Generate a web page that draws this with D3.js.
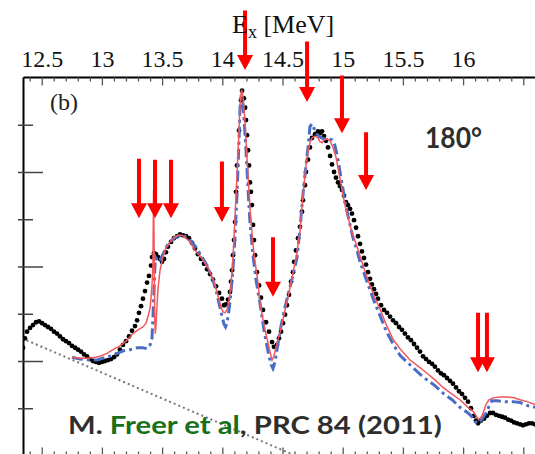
<!DOCTYPE html>
<html>
<head>
<meta charset="utf-8">
<script src="https://cdn.jsdelivr.net/npm/d3@7"></script>
<style>
  html, body { margin: 0; padding: 0; background: #fff; }
  svg { display: block; }
</style>
</head>
<body>
<div id="chart"></div>
<script>
// 180 deg spectrum, [Ex (MeV), yield (arb. units)]
const measured = [
  [12.345,1.14],[12.361,1.24],[12.378,1.31],[12.403,1.35],[12.428,1.38],[12.453,1.41],[12.478,1.42],
  [12.503,1.40],[12.527,1.38],[12.552,1.36],[12.577,1.34],[12.602,1.31],[12.627,1.29],[12.652,1.26],
  [12.677,1.23],[12.702,1.21],[12.727,1.19],[12.752,1.16],[12.777,1.14],[12.802,1.12],[12.826,1.10],
  [12.851,1.07],[12.876,1.05],[12.901,1.02],[12.926,1.00],[12.951,0.99],[12.976,0.98],[13.001,0.99],
  [13.026,1.00],[13.051,1.01],[13.076,1.02],[13.101,1.04],[13.125,1.07],[13.150,1.12],[13.175,1.17],
  [13.200,1.21],[13.225,1.26],[13.250,1.32],[13.275,1.37],[13.292,1.43],[13.308,1.51],[13.325,1.58],
  [13.341,1.66],[13.358,1.74],[13.375,1.83],[13.391,1.90],[13.408,2.01],[13.416,2.10],[13.433,2.14],
  [13.449,2.13],[13.466,2.10],[13.483,2.08],[13.499,2.05],[13.516,2.08],[13.532,2.15],[13.549,2.21],
  [13.574,2.26],[13.599,2.30],[13.624,2.32],[13.649,2.34],[13.674,2.33],[13.699,2.32],[13.723,2.30],
  [13.748,2.25],[13.773,2.19],[13.798,2.13],[13.823,2.08],[13.848,2.03],[13.873,1.97],[13.898,1.92],
  [13.923,1.86],[13.948,1.79],[13.973,1.72],[13.997,1.66],[14.014,1.59],[14.031,1.60],[14.047,1.65],
  [14.064,1.73],[14.072,1.84],[14.081,1.96],[14.089,2.12],[14.097,2.28],[14.106,2.47],[14.114,2.79],
  [14.122,3.07],[14.139,3.44],[14.155,3.76],[14.164,3.86],[14.180,3.78],[14.189,3.68],[14.197,3.55],
  [14.205,3.39],[14.214,3.23],[14.222,3.07],[14.230,2.89],[14.238,2.79],[14.247,2.65],[14.255,2.44],
  [14.263,2.28],[14.272,2.12],[14.288,1.94],[14.305,1.80],[14.321,1.67],[14.338,1.54],[14.363,1.41],
  [14.388,1.31],[14.413,1.20],[14.429,1.15],[14.454,1.17],[14.471,1.24],[14.488,1.31],[14.504,1.40],
  [14.521,1.49],[14.537,1.59],[14.554,1.70],[14.571,1.84],[14.587,1.94],[14.596,2.05],[14.612,2.17],
  [14.629,2.30],[14.645,2.42],[14.662,2.58],[14.670,2.70],[14.687,2.86],[14.695,3.00],[14.712,3.13],
  [14.728,3.26],[14.745,3.36],[14.770,3.40],[14.795,3.43],[14.811,3.41],[14.828,3.43],[14.845,3.38],
  [14.861,3.33],[14.878,3.26],[14.895,3.17],[14.911,3.08],[14.928,3.00],[14.944,2.94],[14.961,2.89],
  [14.978,2.85],[14.994,2.81],[15.011,2.75],[15.027,2.68],[15.044,2.65],[15.061,2.61],[15.077,2.56],
  [15.094,2.49],[15.111,2.41],[15.127,2.32],[15.144,2.24],[15.160,2.16],[15.177,2.09],[15.194,2.02],
  [15.210,1.94],[15.227,1.87],[15.243,1.81],[15.260,1.76],[15.277,1.71],[15.293,1.66],[15.318,1.59],
  [15.343,1.54],[15.368,1.51],[15.393,1.47],[15.418,1.43],[15.443,1.40],[15.468,1.36],[15.492,1.33],
  [15.517,1.29],[15.542,1.25],[15.567,1.22],[15.592,1.18],[15.617,1.14],[15.642,1.10],[15.667,1.05],
  [15.692,1.02],[15.717,0.99],[15.742,0.97],[15.766,0.94],[15.791,0.90],[15.816,0.87],[15.841,0.85],
  [15.866,0.82],[15.891,0.79],[15.916,0.76],[15.941,0.72],[15.966,0.68],[15.991,0.65],[16.016,0.61],
  [16.041,0.57],[16.065,0.50],[16.090,0.42],[16.107,0.37],[16.124,0.34],[16.149,0.37],[16.174,0.39],
  [16.198,0.42],[16.224,0.45],[16.248,0.45],[16.273,0.43],[16.298,0.42],[16.323,0.41],[16.348,0.40],
  [16.373,0.38],[16.398,0.37],[16.423,0.35],[16.448,0.34],[16.473,0.33],[16.497,0.32],[16.522,0.33],
  [16.547,0.34],[16.572,0.34],[16.597,0.33]
];

// R-matrix fit (solid red)
const fitRed = [
  [12.752,1.04],[12.818,1.03],[12.876,1.03],[12.943,1.04],[12.984,1.05],[13.042,1.08],[13.092,1.12],
  [13.150,1.16],[13.209,1.22],[13.258,1.29],[13.300,1.33],[13.341,1.36],[13.366,1.40],[13.383,1.47],
  [13.400,1.56],[13.408,1.67],[13.416,1.80],[13.424,2.02],[13.429,2.81],[13.434,2.17],[13.439,1.43],
  [13.444,1.29],[13.449,1.38],[13.458,1.59],[13.466,1.77],[13.483,1.96],[13.507,2.10],[13.532,2.20],
  [13.566,2.26],[13.599,2.31],[13.632,2.33],[13.665,2.33],[13.699,2.30],[13.732,2.26],[13.773,2.17],
  [13.815,2.11],[13.856,2.04],[13.898,1.94],[13.931,1.84],[13.964,1.69],[13.989,1.57],[14.006,1.52],
  [14.022,1.51],[14.039,1.54],[14.056,1.65],[14.072,1.80],[14.089,2.09],[14.106,2.54],[14.122,2.97],
  [14.139,3.44],[14.147,3.71],[14.160,3.87],[14.172,3.80],[14.189,3.53],[14.205,3.15],[14.230,2.62],
  [14.255,2.23],[14.272,2.05],[14.297,1.83],[14.313,1.62],[14.346,1.38],[14.371,1.24],[14.396,1.10],
  [14.413,1.01],[14.429,1.05],[14.446,1.15],[14.479,1.30],[14.513,1.49],[14.546,1.68],[14.579,1.88],
  [14.612,2.09],[14.645,2.36],[14.670,2.76],[14.695,3.07],[14.712,3.21],[14.728,3.31],[14.745,3.36],
  [14.770,3.38],[14.795,3.36],[14.811,3.32],[14.828,3.31],[14.845,3.34],[14.870,3.35],[14.895,3.33],
  [14.919,3.26],[14.944,3.16],[14.969,2.99],[14.994,2.81],[15.019,2.65],[15.044,2.52],[15.077,2.36],
  [15.111,2.24],[15.144,2.11],[15.185,1.95],[15.227,1.80],[15.268,1.67],[15.310,1.55],[15.360,1.39],
  [15.418,1.23],[15.476,1.13],[15.559,1.01],[15.642,0.93],[15.700,0.87],[15.766,0.80],[15.833,0.72],
  [15.908,0.65],[15.974,0.59],[16.041,0.51],[16.082,0.47],[16.107,0.42],[16.124,0.39],[16.140,0.39],
  [16.157,0.42],[16.174,0.48],[16.190,0.54],[16.215,0.59],[16.248,0.61],[16.306,0.62],[16.365,0.62],
  [16.423,0.61],[16.473,0.59],[16.531,0.57],[16.597,0.54]
];

// alternative fit (blue dash-dot)
const fitBlue = [
  [12.752,1.04],[12.818,1.02],[12.901,1.01],[12.959,1.01],[13.009,1.03],[13.067,1.05],[13.125,1.08],
  [13.184,1.11],[13.234,1.12],[13.292,1.14],[13.341,1.14],[13.375,1.13],[13.400,1.17],[13.416,1.24],
  [13.424,1.46],[13.433,1.75],[13.441,2.02],[13.449,2.09],[13.466,2.05],[13.483,2.07],[13.507,2.13],
  [13.541,2.22],[13.582,2.28],[13.624,2.32],[13.665,2.33],[13.707,2.31],[13.748,2.26],[13.790,2.19],
  [13.831,2.10],[13.873,2.01],[13.914,1.89],[13.948,1.75],[13.973,1.61],[13.997,1.48],[14.014,1.39],
  [14.027,1.36],[14.039,1.40],[14.056,1.54],[14.072,1.73],[14.089,1.98],[14.106,2.33],[14.122,2.76],
  [14.139,3.34],[14.147,3.68],[14.155,3.78],[14.168,3.76],[14.180,3.57],[14.197,3.23],[14.214,2.81],
  [14.230,2.47],[14.255,2.12],[14.280,1.86],[14.313,1.61],[14.346,1.33],[14.380,1.10],[14.405,0.96],
  [14.421,0.92],[14.438,0.99],[14.463,1.19],[14.488,1.37],[14.521,1.57],[14.554,1.74],[14.587,1.91],
  [14.620,2.09],[14.645,2.39],[14.670,2.76],[14.695,3.07],[14.712,3.26],[14.728,3.48],[14.745,3.51],
  [14.762,3.46],[14.787,3.40],[14.811,3.37],[14.845,3.35],[14.878,3.35],[14.911,3.34],[14.936,3.28],
  [14.961,3.13],[14.986,2.94],[15.011,2.75],[15.036,2.58],[15.061,2.44],[15.086,2.30],[15.119,2.17],
  [15.144,2.05],[15.185,1.90],[15.227,1.75],[15.268,1.61],[15.310,1.48],[15.360,1.32],[15.418,1.18],
  [15.476,1.06],[15.559,0.96],[15.642,0.86],[15.700,0.80],[15.766,0.74],[15.833,0.66],[15.908,0.59],
  [15.974,0.51],[16.041,0.45],[16.082,0.40],[16.107,0.35],[16.124,0.34],[16.140,0.35],[16.165,0.40],
  [16.190,0.45],[16.215,0.52],[16.240,0.58],[16.282,0.58],[16.348,0.57],[16.414,0.57],[16.473,0.56],
  [16.531,0.53],[16.597,0.51]
];

// linear background (dotted grey)
const background = [[12.337, 1.24], [14.604, 0.0]];

// resonance markers: energy, arrow top, arrow tip (same y units)
const arrowEx  = [13.308, 13.441, 13.574, 13.997, 14.189, 14.704, 14.994, 15.194, 14.421, 16.124, 16.198];
const arrowTop = [3.14, 3.13, 3.13, 3.11, 4.71, 4.38, 4.02, 3.42, 2.31, 1.51, 1.51];
const arrowTip = [2.51, 2.51, 2.51, 2.47, 4.08, 3.74, 3.41, 2.81, 1.68, 0.88, 0.88];

const xMajor = [12.5, 13, 13.5, 14, 14.5, 15, 15.5, 16, 16.5];
const xLabels = ["12.5", "13", "13.5", "14", "14.5", "15", "15.5", "16", ""];
const yMajor = [1, 2, 3];
const yMinor = [0.5, 1.5, 2.5, 3.5];

const W = 535, H = 454;
const padLeft = 23.5, padTop = 77.5, padBottom = 455.5;

const svg = d3.select("#chart").append("svg")
  .attr("width", W)
  .attr("height", H);

const x = d3.scaleLinear().domain([12.5, 16.5]).range([41.7, 523.3]);
const y = d3.scaleLinear().domain([0, 4]).range([padBottom, padTop]);

svg.append("defs").append("clipPath").attr("id", "plot")
  .append("rect")
  .attr("x", padLeft).attr("y", padTop)
  .attr("width", W - padLeft).attr("height", padBottom - padTop);

// top axis (ticks point inward)
const xMinor = d3.range(12.4, 16.65, 0.1).filter(v => Math.abs(v * 2 - Math.round(v * 2)) > 0.01);

const gTop = svg.append("g").attr("transform", `translate(0,${padTop})`);
gTop.call(d3.axisTop(x).tickValues(xMajor).tickSize(-8).tickPadding(10.5)
  .tickFormat((d, i) => xLabels[i]));
gTop.append("g").call(d3.axisTop(x).tickValues(xMinor).tickSize(-4).tickFormat(""))
  .select(".domain").remove();
gTop.select(".domain").attr("d", `M${padLeft},0H${W}`).attr("stroke", "#000").attr("stroke-width", 2);
gTop.selectAll(".tick line").attr("stroke", "#555").attr("stroke-width", 1.3);
gTop.selectAll(".tick text")
  .attr("font-family", "'Liberation Serif', 'Times New Roman', serif")
  .attr("font-size", 24).attr("fill", "#111");

// bottom axis, only ticks fall inside the picture
const gBot = svg.append("g").attr("transform", `translate(0,${padBottom})`);
gBot.call(d3.axisBottom(x).tickValues(xMajor).tickSize(-8).tickFormat(""));
gBot.append("g").call(d3.axisBottom(x).tickValues(xMinor).tickSize(-4).tickFormat(""))
  .select(".domain").remove();
gBot.select(".domain").attr("d", `M${padLeft},0H${W}`).attr("stroke", "#000").attr("stroke-width", 2);
gBot.selectAll(".tick line").attr("stroke", "#555").attr("stroke-width", 1.3);

// left axis, ticks cross the spine
const gLeft = svg.append("g").attr("transform", `translate(${padLeft},0)`);
gLeft.call(d3.axisLeft(y).tickValues(yMajor).tickSize(-19.5).tickFormat(""));
gLeft.selectAll(".tick line").attr("x1", -5.5);
gLeft.append("g").call(d3.axisLeft(y).tickValues(yMinor).tickSize(-9.5).tickFormat(""))
  .call(g => g.select(".domain").remove())
  .selectAll(".tick line").attr("x1", -5.5);
gLeft.select(".domain").attr("d", `M0,${padTop}V${padBottom}`).attr("stroke", "#000").attr("stroke-width", 2);
gLeft.selectAll(".tick line").attr("stroke", "#444").attr("stroke-width", 1.5);

const plot = svg.append("g").attr("clip-path", "url(#plot)");

const line = d3.line().x(d => x(d[0])).y(d => y(d[1]));

plot.append("path")
  .datum(background)
  .attr("d", line)
  .attr("fill", "none")
  .attr("stroke", "#777")
  .attr("stroke-width", 2)
  .attr("stroke-dasharray", "2,3");

plot.append("g").selectAll("circle")
  .data(measured)
  .join("circle")
  .attr("cx", d => x(d[0]))
  .attr("cy", d => y(d[1]))
  .attr("r", 2.4)
  .attr("fill", "#000");

plot.append("path")
  .datum(fitBlue)
  .attr("d", line)
  .attr("fill", "none")
  .attr("stroke", "#4a6cc4")
  .attr("stroke-width", 3)
  .attr("stroke-dasharray", "11,4,3,4");

plot.append("path")
  .datum(fitRed)
  .attr("d", line)
  .attr("fill", "none")
  .attr("stroke", "#f0585c")
  .attr("stroke-width", 1.5);

// red arrows
const arrows = arrowEx.map((e, i) => ({ e, t: arrowTop[i], b: arrowTip[i] }));
svg.append("g").selectAll("path")
  .data(arrows)
  .join("path")
  .attr("d", d => {
    const cx = x(d.e), y0 = y(d.t), y1 = y(d.b), hh = 15;
    return `M${cx - 2},${y0}H${cx + 2}V${y1 - hh}H${cx + 8}L${cx},${y1}L${cx - 8},${y1 - hh}H${cx - 2}Z`;
  })
  .attr("fill", "#ff0000");

// axis title
const title = svg.append("text")
  .attr("x", 232).attr("y", 33)
  .attr("font-family", "'Liberation Serif', 'Times New Roman', serif")
  .attr("font-size", 26).attr("fill", "#111");
title.append("tspan").text("E");
title.append("tspan").attr("font-size", 18).attr("dy", 5).text("x");
title.append("tspan").attr("dy", -5).text(" [MeV]");

svg.append("text")
  .attr("x", 50).attr("y", 110)
  .attr("font-family", "'Liberation Serif', 'Times New Roman', serif")
  .attr("font-size", 24).attr("fill", "#222")
  .text("(b)");

// squeeze a bold label horizontally so it keeps its height but matches the width
function squeeze(sel, px, py, w) {
  const len = sel.node().getComputedTextLength();
  sel.attr("x", 0).attr("y", 0)
    .attr("transform", `translate(${px},${py}) scale(${w / len},1)`);
}

const angle = svg.append("text")
  .attr("font-family", "Lato, 'Open Sans', sans-serif")
  .attr("font-weight", 700).attr("font-size", 29).attr("fill", "#2e2e2e")
  .text("180°");
squeeze(angle, 425, 148, 57);

const cite = svg.append("text")
  .attr("font-family", "Lato, 'Open Sans', sans-serif")
  .attr("font-weight", 700).attr("font-size", 25.5).attr("fill", "#2e2e2e");
cite.append("tspan").text("M. ");
cite.append("tspan").attr("fill", "#187018").text("Freer et al");
cite.append("tspan").text(", PRC 84 (2011)");
squeeze(cite, 68, 434, 374);
</script>
</body>
</html>
